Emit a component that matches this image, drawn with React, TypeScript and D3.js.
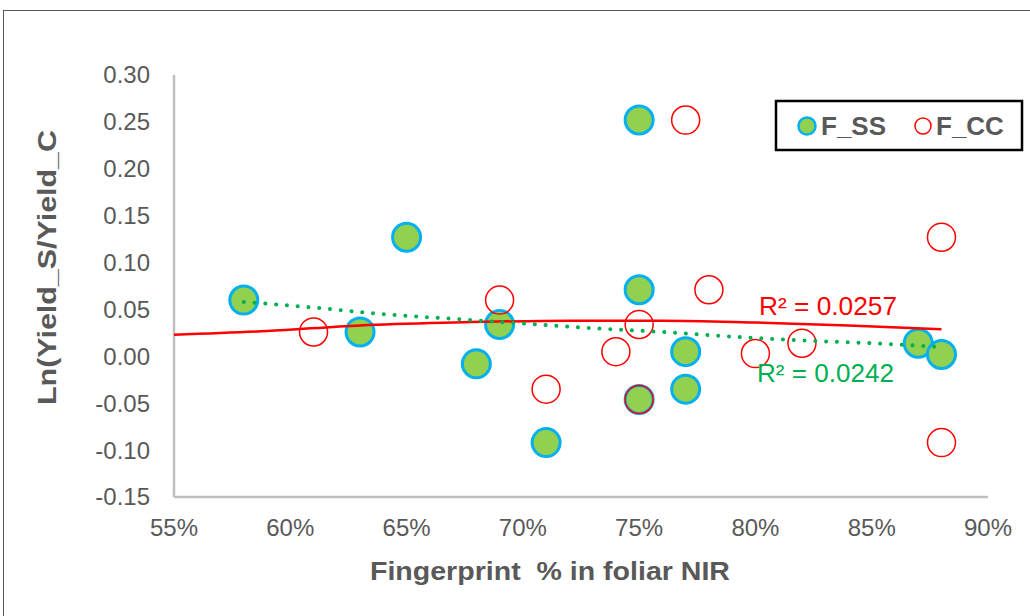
import React from "react";
import * as d3 from "d3";

const ssX = [58, 63, 65, 68, 69, 71, 75, 75, 75, 77, 77, 87, 88];
const ssY = [0.06, 0.026, 0.127, -0.008, 0.034, -0.092, 0.252, 0.071, -0.046, 0.005, -0.035, 0.014, 0.002];
const ccX = [61, 69, 71, 74, 75, 75, 77, 78, 80, 82, 88, 88];
const ccY = [0.026, 0.06, -0.035, 0.005, 0.034, -0.046, 0.252, 0.071, 0.003, 0.014, 0.127, -0.092];
// trend lines
const ccTrendX = [55, 59, 63, 67, 72, 76, 80, 84, 88];
const ccTrendY = [0.023, 0.027, 0.033, 0.036, 0.038, 0.038, 0.036, 0.033, 0.029];
const ssTrendX = [58, 61, 64, 67, 70, 73, 76, 79, 82, 85, 88];
const ssTrendY = [0.058, 0.052, 0.045, 0.040, 0.035, 0.030, 0.026, 0.021, 0.017, 0.014, 0.010];
const yTicks = [-0.15, -0.1, -0.05, 0, 0.05, 0.1, 0.15, 0.2, 0.25, 0.3];
const xTicks = [55, 60, 65, 70, 75, 80, 85, 90];
const ccR2 = "R² = 0.0257";
const ssR2 = "R² = 0.0242";
const xTitle = "Fingerprint  % in foliar NIR";
const yTitle = "Ln(Yield_S/Yield_C";
const legendNames = ["F_SS", "F_CC"];

export default function App() {
  const x = d3.scaleLinear().domain([55, 90]).range([174, 988]);
  const y = d3.scaleLinear().domain([-0.15, 0.3]).range([497, 75]);
  const grey = "#595959";
  const font = "'Liberation Sans', Arial, sans-serif";

  const line = d3
    .line<[number, number]>()
    .x((d) => x(d[0]))
    .y((d) => y(d[1]))
    .curve(d3.curveMonotoneX);
  const ccPath = line(ccTrendX.map((v, i) => [v, ccTrendY[i]] as [number, number])) || "";
  const ssPath = line(ssTrendX.map((v, i) => [v, ssTrendY[i]] as [number, number])) || "";

  return (
    <svg width={1030} height={616} style={{ position: "absolute", left: 0, top: 0, background: "#fff" }}>
      <rect x={3.5} y={10.5} width={1040} height={620} fill="#fff" stroke="#595959" strokeWidth={1} />
      {/* axes */}
      <line x1={174} x2={174} y1={75} y2={497} stroke="#BFBFBF" strokeWidth={2.5} />
      <line x1={174} x2={988} y1={497} y2={497} stroke="#BFBFBF" strokeWidth={2.5} />
      {yTicks.map((t) => (
        <text key={t} x={150} y={y(t)} dy="0.35em" textAnchor="end" fontSize={24} fill={grey} fontFamily={font}>
          {t.toFixed(2)}
        </text>
      ))}
      {xTicks.map((t) => (
        <text key={t} x={x(t)} y={536} textAnchor="middle" fontSize={24} fill={grey} fontFamily={font}>
          {t + "%"}
        </text>
      ))}
      <text
        x={550}
        y={580}
        textAnchor="middle"
        fontSize={25}
        fontWeight="bold"
        fill={grey}
        fontFamily={font}
        textLength={360}
        lengthAdjust="spacingAndGlyphs"
        style={{ whiteSpace: "pre" }}
      >
        {xTitle}
      </text>
      <text
        transform="translate(56,267.5) rotate(-90)"
        textAnchor="middle"
        fontSize={25}
        fontWeight="bold"
        fill={grey}
        fontFamily={font}
        textLength={275}
        lengthAdjust="spacingAndGlyphs"
      >
        {yTitle}
      </text>
      {/* markers */}
      {ssX.map((v, i) => (
        <circle key={"s" + i} cx={x(v)} cy={y(ssY[i])} r={14} fill="#92D050" stroke="#00B0F0" strokeWidth={3} />
      ))}
      {ccX.map((v, i) => (
        <circle key={"c" + i} cx={x(v)} cy={y(ccY[i])} r={14} fill="none" stroke="#FF0000" strokeWidth={1.5} />
      ))}
      {/* trend lines */}
      <path d={ccPath} fill="none" stroke="#FF0000" strokeWidth={2.5} />
      <path d={ssPath} fill="none" stroke="#00B050" strokeWidth={4} strokeDasharray="0.01 10.8" strokeLinecap="round" />
      <text x={759} y={315} fontSize={25} fill="#FF0000" fontFamily={font} textLength={138} lengthAdjust="spacingAndGlyphs">
        {ccR2}
      </text>
      <text x={757} y={382} fontSize={25} fill="#00B050" fontFamily={font} textLength={137} lengthAdjust="spacingAndGlyphs">
        {ssR2}
      </text>
      {/* legend */}
      <rect x={776} y={101} width={246} height={49} fill="#fff" stroke="#000" strokeWidth={2.5} />
      <circle cx={807} cy={126} r={8.5} fill="#92D050" stroke="#00B0F0" strokeWidth={2.5} />
      <text x={821} y={135} fontSize={26} fontWeight="bold" fill={grey} fontFamily={font}>{legendNames[0]}</text>
      <circle cx={923} cy={126} r={8} fill="none" stroke="#FF0000" strokeWidth={1.5} />
      <text x={936} y={135} fontSize={26} fontWeight="bold" fill={grey} fontFamily={font}>{legendNames[1]}</text>
    </svg>
  );
}
